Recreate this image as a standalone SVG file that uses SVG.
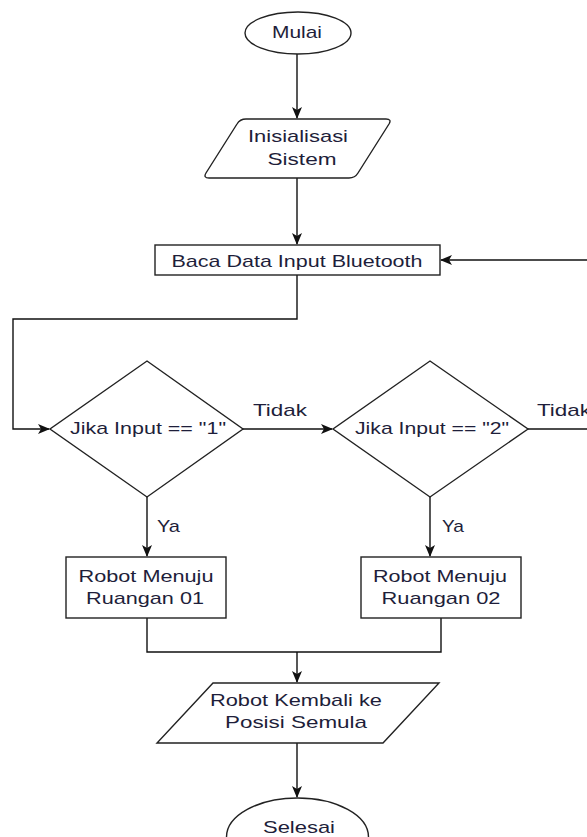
<svg xmlns="http://www.w3.org/2000/svg" width="587" height="837" viewBox="0 0 587 837">
<defs>
<marker id="arr" viewBox="0 0 12 10" refX="11" refY="5" markerWidth="12" markerHeight="10" markerUnits="userSpaceOnUse" orient="auto">
<path d="M0,0 L12,5 L0,10 L3,5 Z" fill="#111"/>
</marker>
<style>
.s{fill:#fff;stroke:#222;stroke-width:1.4}
.c{fill:none;stroke:#111;stroke-width:1.4}
text{font-family:"Liberation Sans",Arial,sans-serif;font-size:17px;fill:#1e1e3a;text-anchor:middle}
.l{text-anchor:start}
</style>
</defs>
<rect width="587" height="837" fill="#fff"/>
<g id="connectors">
<path class="c" d="M297,54 L297,118" marker-end="url(#arr)"/>
<path class="c" d="M297,178 L297,244" marker-end="url(#arr)"/>
<path class="c" d="M587,260 L441,260" marker-end="url(#arr)"/>
<path class="c" d="M297,275 L297,319 L13,319 L13,429 L49,429" marker-end="url(#arr)"/>
<path class="c" d="M243,429 L332,429" marker-end="url(#arr)"/>
<path class="c" d="M528,429 L587,429"/>
<path class="c" d="M147,497 L147,556" marker-end="url(#arr)"/>
<path class="c" d="M430,497 L430,556" marker-end="url(#arr)"/>
<path class="c" d="M147,618 L147,652 L441,652 L441,618"/>
<path class="c" d="M297,652 L297,682" marker-end="url(#arr)"/>
<path class="c" d="M297,743 L297,797" marker-end="url(#arr)"/>
<text class="l" x="253" y="416" textLength="54" lengthAdjust="spacingAndGlyphs">Tidak</text>
<text class="l" x="537" y="416" textLength="54" lengthAdjust="spacingAndGlyphs">Tidak</text>
<text class="l" x="157" y="532" textLength="23" lengthAdjust="spacingAndGlyphs">Ya</text>
<text class="l" x="442" y="532" textLength="22" lengthAdjust="spacingAndGlyphs">Ya</text>
</g>
<g id="mulai">
<ellipse class="s" cx="298" cy="33" rx="53" ry="21"/>
<text x="297" y="38" textLength="50" lengthAdjust="spacingAndGlyphs">Mulai</text>
</g>
<g id="inisialisasi">
<path class="s" d="M246,119 L386,119 Q392,119 389,124 L358,173 Q355,178 349,178 L209,178 Q203,178 206,173 L237,124 Q240,119 246,119 Z"/>
<text x="298" y="142" textLength="100" lengthAdjust="spacingAndGlyphs">Inisialisasi</text>
<text x="302" y="165" textLength="69" lengthAdjust="spacingAndGlyphs">Sistem</text>
</g>
<g id="baca">
<rect class="s" x="155" y="245" width="285" height="30"/>
<text x="297" y="267" textLength="251" lengthAdjust="spacingAndGlyphs">Baca Data Input Bluetooth</text>
</g>
<g id="cek1">
<path class="s" d="M147,361 L243,429 L147,497 L50,429 Z"/>
<text x="148" y="434" textLength="156" lengthAdjust="spacingAndGlyphs">Jika Input == "1"</text>
</g>
<g id="cek2">
<path class="s" d="M430,361 L528,429 L430,497 L333,429 Z"/>
<text x="432" y="434" textLength="154" lengthAdjust="spacingAndGlyphs">Jika Input == "2"</text>
</g>
<g id="ruang1">
<rect class="s" x="66" y="557" width="160" height="61"/>
<text x="146" y="582" textLength="135" lengthAdjust="spacingAndGlyphs">Robot Menuju</text>
<text x="145" y="604" textLength="118" lengthAdjust="spacingAndGlyphs">Ruangan 01</text>
</g>
<g id="ruang2">
<rect class="s" x="361" y="557" width="160" height="61"/>
<text x="440" y="582" textLength="134" lengthAdjust="spacingAndGlyphs">Robot Menuju</text>
<text x="441" y="604" textLength="119" lengthAdjust="spacingAndGlyphs">Ruangan 02</text>
</g>
<g id="kembali">
<path class="s" d="M213,683 L439,683 L383,743 L157,743 Z"/>
<text x="296" y="706" textLength="172" lengthAdjust="spacingAndGlyphs">Robot Kembali ke</text>
<text x="296" y="728" textLength="142" lengthAdjust="spacingAndGlyphs">Posisi Semula</text>
</g>
<g id="selesai">
<ellipse class="s" cx="297.5" cy="837" rx="71" ry="39"/>
<text x="299" y="833" textLength="72" lengthAdjust="spacingAndGlyphs">Selesai</text>
</g>
</svg>
